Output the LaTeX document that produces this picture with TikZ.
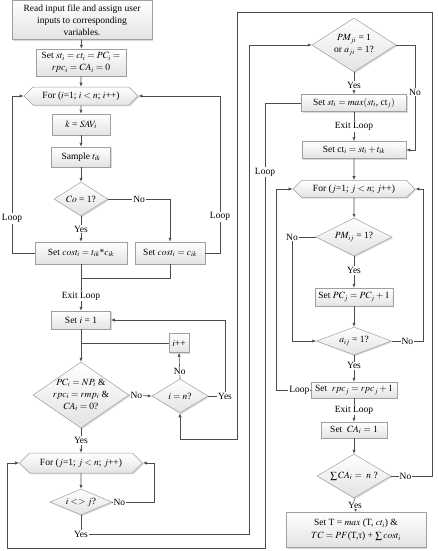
\documentclass[tikz,border=0pt]{standalone}
\usepackage{mathptmx}
\usepackage{fontspec}
\setmainfont{Liberation Serif}
\usetikzlibrary{shapes.geometric,shapes.symbols,shadows,arrows.meta}

\tikzset{
  block/.style={draw=gray!75, line width=0.5pt, top color=white, bottom color=gray!22,
    drop shadow={opacity=0.3, shadow xshift=1.2pt, shadow yshift=-1.2pt},
    align=center, font=\fontsize{9.5}{12}\selectfont},
  procbox/.style={block, rectangle, inner sep=1pt},
  decide/.style={block, diamond, inner sep=-6pt},
  forhex/.style={block, signal, signal to=west and east, signal pointer angle=90, inner sep=1pt},
  flow/.style={draw=gray!60!black, line width=0.6pt, -{Latex[length=4pt,width=3.2pt]}},
  wire/.style={draw=gray!60!black, line width=0.6pt},
  tag/.style={fill=white, inner sep=1pt, font=\fontsize{9.5}{12}\selectfont}
}

\begin{document}
\begin{tikzpicture}[x=1pt,y=-1pt]
\useasboundingbox (0,0) rectangle (438,551);

\node[procbox, minimum width=140pt, minimum height=39pt] (readin) at (82,20) {Read input file and assign user\\inputs to corresponding\\variables.};
\node[procbox, minimum width=90pt, minimum height=27pt] (init) at (81,62.5) {Set $st_i = ct_i = PC_i =$\\$rpc_i = CA_i = 0$};
\node[forhex, minimum width=114pt, minimum height=18pt] (fori) at (81,96) {For ($i$=1; $i < n$; $i$++)};
\node[procbox, minimum width=58pt, minimum height=21pt] (ksav) at (81,124.5) {$k$ = $SAV_i$};
\node[procbox, minimum width=59pt, minimum height=20pt] (sample) at (81,157) {Sample $t_{ik}$};
\node[decide, minimum width=54pt, minimum height=34pt] (co) at (81,199) {$Co$ = 1?};
\node[procbox, minimum width=92pt, minimum height=22pt] (costa) at (81,253) {Set $cost_i = t_{ik}$*$c_{ik}$};
\node[procbox, minimum width=70pt, minimum height=22pt] (costb) at (170,253) {Set $cost_i = c_{ik}$};
\coordinate (merge) at (81,278);
\node[procbox, minimum width=59pt, minimum height=18pt] (seti) at (81,320) {Set $i$ = 1};
\node[procbox, minimum width=20pt, minimum height=19pt] (iplus) at (179,343) {$i$++};
\node[decide, minimum width=96pt, minimum height=66pt] (pcok) at (81,395) {$PC_i = NP_i$ \&\\$rpc_i = rmp_i$ \&\\$CA_i = 0$?};
\node[decide, minimum width=56pt, minimum height=34pt] (ieqn) at (180,396) {$i = n$?};
\node[forhex, minimum width=123pt, minimum height=20pt] (forj) at (81,463) {For ($j$=1; $j < n$; $j$++)};
\node[decide, minimum width=62pt, minimum height=26pt] (ineqj) at (81,502) {$i <> j$?};

\node[decide, minimum width=84pt, minimum height=54pt] (pmji) at (354,45) {$PM_{ji}$ = 1\\or $a_{ji}$ = 1?};
\node[procbox, minimum width=105pt, minimum height=17pt] (stmax) at (354,103) {Set $st_i = max(st_i$, ct$_j)$};
\node[procbox, minimum width=104pt, minimum height=17pt] (ctset) at (354,150) {Set ct$_i = st_i + t_{ik}$};
\node[forhex, minimum width=122pt, minimum height=17pt] (forj2) at (354,189) {For ($j$=1; $j < n$; $j$++)};
\node[decide, minimum width=76pt, minimum height=38pt] (pmij) at (354,237) {$PM_{ij}$ = 1?};
\node[procbox, minimum width=78pt, minimum height=18pt] (pcj) at (354,297) {Set $PC_j = PC_j + 1$};
\node[decide, minimum width=75pt, minimum height=28pt] (aij) at (354,341) {$a_{ij}$ = 1?};
\node[procbox, minimum width=86pt, minimum height=16pt] (rpcj) at (354,390) {Set \ $rpc_j = rpc_j + 1$};
\node[procbox, minimum width=66pt, minimum height=16pt] (caset) at (354,430) {Set \ $CA_i = 1$};
\node[decide, minimum width=74pt, minimum height=44pt] (sumca) at (354,476) {$\sum CA_i = \ n$ ?};
\node[procbox, minimum width=140pt, minimum height=35pt] (final) at (356,530) {Set T = $max$ (T, $ct_i$) \&\\[1pt]$TC = PF$(T,τ) + $\sum cost_i$};

\draw[flow] (readin) -- (init);
\draw[flow] (init) -- (fori);
\draw[flow] (fori) -- (ksav);
\draw[flow] (ksav) -- (sample);
\draw[flow] (sample) -- (co);
\draw[flow] (co.south) -- node[tag] (yco) {Yes} (costa.north);
\draw[flow] (co.east) -- node[tag] (nco) {No} (170,199) -- (costb.north);
\draw[flow] (costa.west) -- (12,253) -- node[tag, pos=0.22] (lpa) {Loop} (12,96) -- (fori.west);
\draw[flow] (costb.east) -- (220,253) -- node[tag, pos=0.23] (lpb) {Loop} (220,96) -- (fori.east);
\draw[wire] (costa.south) -- (merge);
\draw[wire] (costb.south) |- (merge);
\draw[flow] (merge) -- node[tag, pos=0.55] (exa) {Exit Loop} (seti.north);
\draw[flow] (seti) -- (pcok);
\draw[flow] (pcok.east) -- node[tag, pos=0, anchor=west] (npc) {No} (ieqn.west);
\draw[flow] (ieqn.north) -- node[tag, pos=0.3] (nin) {No} (iplus.south);
\draw[wire] (iplus.west) -- (81,343);
\draw[flow] (ieqn.east) -- (225,396) node[tag] (yin) {Yes} -- (225,320) -- (seti.east);
\draw[flow] (pcok.south) -- node[tag] (ypc) {Yes} (forj.north);
\draw[flow] (forj) -- (ineqj);
\draw[flow] (ineqj.east) -- node[tag, pos=0, anchor=west] (nij) {No} (154,502) -- (154,463) -- (forj.east);
\draw[flow] (ineqj.south) -- (81,534) node[tag] (yij) {Yes} -- (249,534) -- (249,45) -- (pmji.west);
\draw[flow] (stmax.west) -- (265,103) -- node[tag, pos=0.155] (lpc) {Loop} (265,548) -- (7,548) -- (7,463) -- (forj.west);

\draw[flow] (pmji.south) -- node[tag, pos=0.6] (ypm) {Yes} (stmax.north);
\draw[flow] (pmji.east) -- (415,45) -- node[tag, pos=0.45] (npm) {No} (415,150) -- (ctset.east);
\draw[flow] (stmax.south) -- node[tag] (exb) {Exit Loop} (ctset.north);
\draw[flow] (ctset) -- (forj2);
\draw[flow] (forj2) -- (pmij);
\draw[flow] (pmij.west) -- (292,237) node[tag] (npi) {No} -- (292,341) -- (aij.west);
\draw[flow] (pmij.south) -- node[tag, pos=0.45] (ypi) {Yes} (pcj.north);
\draw[flow] (pcj) -- (aij);
\draw[flow] (aij.east) -- node[tag] (nai) {No} (423,341) -- (423,189) -- (forj2.east);
\draw[flow] (aij.south) -- node[tag, pos=0.4] (yai) {Yes} (rpcj.north);
\draw[flow] (rpcj.west) -- node[tag, pos=0, anchor=east] (lpd) {Loop} (276,390) -- (276,189) -- (forj2.west);
\draw[flow] (rpcj.south) -- node[tag] (exc) {Exit Loop} (caset.north);
\draw[flow] (caset) -- (sumca);
\draw[flow] (sumca.east) -- node[tag, pos=0.35] (nsu) {No} (432,476) -- (432,12) -- (237,12) -- (237,439) -- (180,439) -- (ieqn.south);
\draw[flow] (sumca.south) -- node[tag, pos=0.5] (ysu) {Yes} (final.north);
\end{tikzpicture}
\end{document}
